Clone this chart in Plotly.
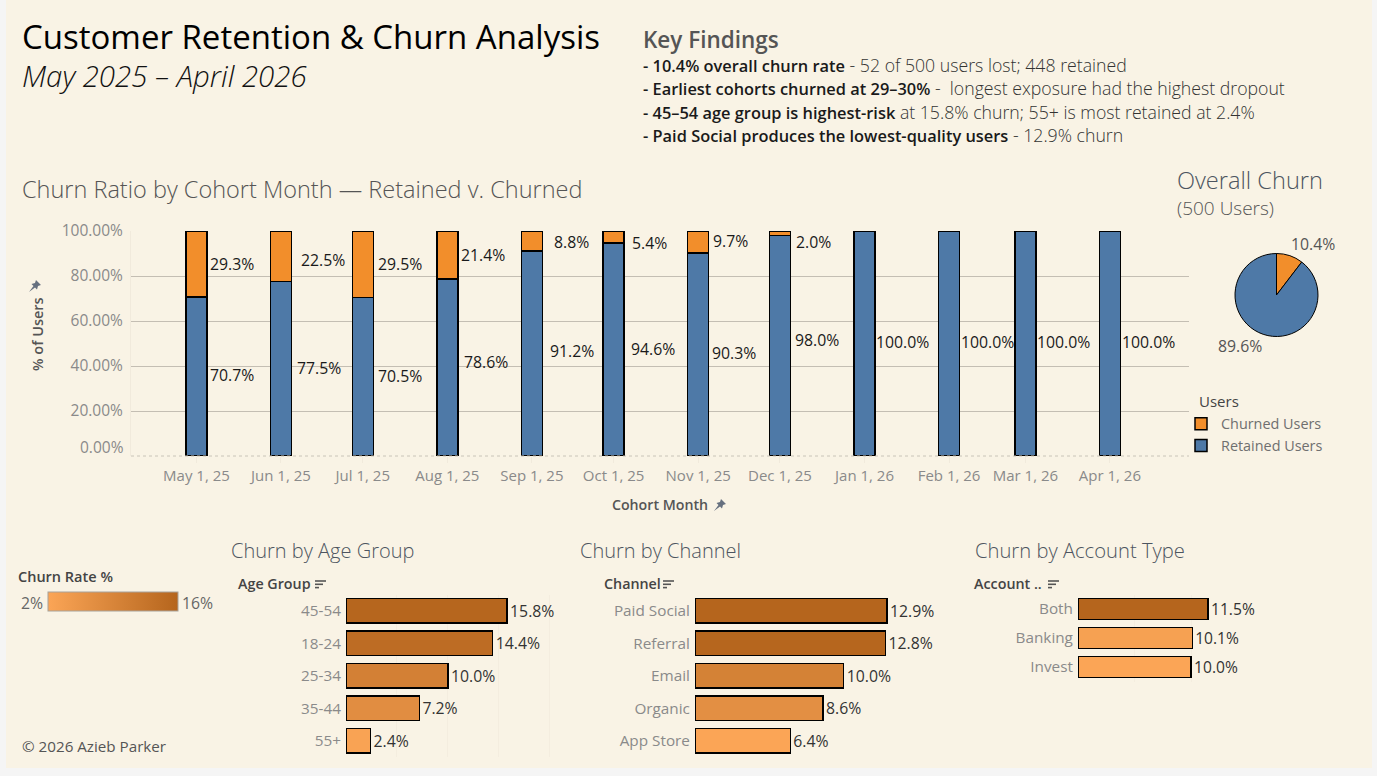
import plotly.graph_objects as go

W, H = 1377, 776

cohort_months = ['2025-05-01', '2025-06-01', '2025-07-01', '2025-08-01', '2025-09-01', '2025-10-01',
                 '2025-11-01', '2025-12-01', '2026-01-01', '2026-02-01', '2026-03-01', '2026-04-01']
retained_pct = [70.7, 77.5, 70.5, 78.6, 91.2, 94.6, 90.3, 98.0, 100.0, 100.0, 100.0, 100.0]
churned_pct = [29.3, 22.5, 29.5, 21.4, 8.8, 5.4, 9.7, 2.0, 0, 0, 0, 0]
y_ticks = [20, 40, 60, 80, 100]
y_tick_labels = ['20.00%', '40.00%', '60.00%', '80.00%', '100.00%']

overall_labels = ['Churned Users', 'Retained Users']
overall_pct = [10.4, 89.6]

age_groups = ['45-54', '18-24', '25-34', '35-44', '55+']
age_churn = [15.8, 14.4, 10.0, 7.2, 2.4]
channels = ['Paid Social', 'Referral', 'Email', 'Organic', 'App Store']
channel_churn = [12.9, 12.8, 10.0, 8.6, 6.4]
account_types = ['Both', 'Banking', 'Invest']
account_churn = [11.5, 10.1, 10.0]

findings_lead = [
    '- 10.4% overall churn rate',
    '- Earliest cohorts churned at 29–30%',
    '- 45–54 age group is highest-risk',
    '- Paid Social produces the lowest-quality users',
]
findings_rest = [
    ' - 52 of 500 users lost; 448 retained',
    ' -  longest exposure had the highest dropout',
    ' at 15.8% churn; 55+ is most retained at 2.4%',
    ' - 12.9% churn',
]

# label nudges in px, Tableau shuffles these to avoid overlaps
churn_label_dx = [12, 18, 13, 12, 20, 16, 13, 14, 0, 0, 0, 0]
churn_label_dy = [0, 4, 0, 0, 1, 6, -1, 9, 0, 0, 0, 0]
retain_label_dx = [12, 14, 13, 15, 16, 15, 12, 13, 9, 10, 10, 10]
retain_label_dy = [-1, -1, -1, -6, -2, -1, -1, -6, -2, -2, -2, -2]

FONT = 'Open Sans'
BG = '#F9F3E5'
ORANGE = '#F28E2B'
BLUE = '#4E79A7'
LIGHT = '#FBA556'
DARK = '#B5651D'
SCALE = [[0, LIGHT], [1, DARK]]


def px(x):
    return x / W


def py(y):
    return 1 - y / H


def note(x, y, text, size, color='#555555', weight=400, anchor='left', style='normal', angle=0, valign='middle'):
    return dict(xref='paper', yref='paper', x=px(x), y=py(y), text=text, showarrow=False,
                xanchor=anchor, yanchor=valign, textangle=angle, align=anchor,
                font=dict(family=FONT, size=size, color=color, weight=weight, style=style))


def pin(cx, cy):
    # small map pin, the one Tableau puts next to pinned axis fields
    pts = [(-6, 6), (-1.5, 0), (-3.5, -2), (0, -3), (1, -6), (6, -1), (3, 0), (2, 3.5), (0, 1.5), (-6, 6)]
    path = 'M' + ' L'.join(f'{px(cx + a):.5f},{py(cy + b):.5f}' for a, b in pts) + ' Z'
    return dict(type='path', xref='paper', yref='paper', path=path, fillcolor='#66707F', line=dict(width=0))


def sort_icon(x, y):
    shapes = []
    for i, length in enumerate([11, 8, 4]):
        shapes.append(dict(type='line', xref='paper', yref='paper', x0=px(x), x1=px(x + length),
                           y0=py(y + i * 3.3), y1=py(y + i * 3.3), line=dict(color='#555555', width=1.6)))
    return shapes


fig = go.Figure()

# stacked cohort bars on a real date axis, that's why the gaps aren't even
fig.add_trace(go.Bar(x=cohort_months, y=retained_pct, name='Retained Users', width=665000000,
                     marker=dict(color=BLUE, line=dict(color='black', width=1.5)), cliponaxis=False))
fig.add_trace(go.Bar(x=cohort_months, y=churned_pct, name='Churned Users', width=665000000,
                     marker=dict(color=ORANGE, line=dict(color='black', width=1.5)), cliponaxis=False))

fig.add_trace(go.Pie(labels=overall_labels, values=overall_pct, sort=False, direction='clockwise', rotation=0,
                     textinfo='none', showlegend=False, automargin=False,
                     marker=dict(colors=[ORANGE, BLUE], line=dict(color='black', width=1)),
                     domain=dict(x=[px(1235), px(1318)], y=[py(336.5), py(253.5)])))


def hbars(cats, vals, ax, cmin=None, cmax=None, colorbar=None):
    fig.add_trace(go.Bar(
        y=cats, x=vals, orientation='h', xaxis='x' + ax, yaxis='y' + ax, showlegend=False,
        marker=dict(color=vals, colorscale=SCALE, cmin=cmin if cmin else min(vals), cmax=cmax if cmax else max(vals),
                    line=dict(color='black', width=1.2), colorbar=colorbar, showscale=colorbar is not None),
        texttemplate='%{x:.1f}%', textposition='outside', cliponaxis=False,
        textfont=dict(family=FONT, size=15.8, color='#333333')))


rate_bar = dict(orientation='h', x=px(48), xanchor='left', y=py(612), yanchor='bottom', thickness=19,
                thicknessmode='pixels', len=130, lenmode='pixels', xpad=0, ypad=0, ticks='', showticklabels=False,
                outlinecolor='#A8A29A', outlinewidth=1)
hbars(age_groups, age_churn, '2', 2, 16, rate_bar)
hbars(channels, channel_churn, '3')
hbars(account_types, account_churn, '4')

annotations = [
    note(20, 36, 'Customer Retention &amp; Churn Analysis', 33, '#000000'),
    note(20, 76, 'May 2025 – April 2026', 29.4, '#111111', 300, style='italic'),
    note(641, 39, 'Key Findings', 22.5, '#555555', 600),
    note(20, 189, 'Churn Ratio by Cohort Month — Retained v. Churned', 23.5, '#555555', 300),
    note(1175, 180, 'Overall Churn', 23.6, '#4d5560', 300),
    note(1175, 208, '(500 Users)', 19, '#555555', 300),
    note(229, 550, 'Churn by Age Group', 20, '#4d5560', 300),
    note(578, 550, 'Churn by Channel', 20, '#4d5560', 300),
    note(973, 550, 'Churn by Account Type', 20.2, '#4d5560', 300),
    note(16, 576, 'Churn Rate %', 14.5, '#444444', 600),
    note(45, 603, '2%', 15.8, '#666666', anchor='right'),
    note(180, 603, '16%', 15.8, '#666666'),
    note(236, 583, 'Age Group', 14.3, '#444444', 600),
    note(602, 583, 'Channel', 14.3, '#444444', 600),
    note(972, 583, 'Account ..', 14.3, '#444444', 600),
    note(20, 746, '© 2026 Azieb Parker', 15.2, '#555555'),
    note(37, 334, '% of Users', 14.5, '#555555', 600, anchor='center', angle=-90),
    note(126, 447, '0.00%', 15.5, '#8a8a8a', anchor='right'),
    note(1313, 244, f'{overall_pct[0]}%', 15.8, '#555555', anchor='center'),
    note(1240, 346, f'{overall_pct[1]}%', 15.8, '#555555', anchor='center'),
    note(1197, 401, 'Users', 15, '#444444'),
]
for i in range(len(findings_lead)):
    line = (f'<span style="font-size:16.4px;font-weight:600;fill:#1a1a1a">{findings_lead[i]}</span>'
            f'{findings_rest[i]}')
    annotations.append(note(641, 65 + i * 23.4, line, 17.7, '#333333', 300))

# value labels sit right of each bar
for i, month in enumerate(cohort_months):
    if churned_pct[i] > 0:
        annotations.append(dict(x=month, y=retained_pct[i] + churned_pct[i] / 2, text=f'{churned_pct[i]:.1f}%',
                                xref='x', yref='y', showarrow=False, xanchor='left', xshift=churn_label_dx[i],
                                yshift=-churn_label_dy[i], font=dict(family=FONT, size=15.8, color='#1a1a1a')))
    annotations.append(dict(x=month, y=retained_pct[i] / 2, text=f'{retained_pct[i]:.1f}%',
                            xref='x', yref='y', showarrow=False, xanchor='left', xshift=retain_label_dx[i],
                            yshift=-retain_label_dy[i], font=dict(family=FONT, size=15.8, color='#1a1a1a')))

shapes = [
    dict(type='rect', xref='paper', yref='paper', x0=px(6), x1=px(1372), y0=py(768), y1=1, fillcolor=BG,
         line=dict(width=0), layer='below'),
    dict(type='line', xref='paper', yref='paper', x0=px(131), x1=px(1189), y0=py(456), y1=py(456),
         line=dict(color='#C9C4B8', width=1, dash='dot')),
    pin(35, 286),
    pin(720, 505),
]
shapes += sort_icon(315, 581) + sort_icon(663, 581) + sort_icon(1048, 581)

cat_font = dict(family=FONT, size=15.3, color='#8a8a8a')


def h_axes(x0, x1, top, bottom, vmax):
    xa = dict(domain=[px(x0), px(x1)], range=[0, vmax], anchor='free', position=py(bottom), tickvals=[0, 5, 10, 15, 20],
              showticklabels=False, showgrid=True, gridcolor='#F4EDDF', zeroline=False, ticks='')
    ya = dict(domain=[py(bottom), py(top)], autorange='reversed', type='category', tickfont=cat_font, ticks='outside',
              ticklen=2, tickcolor='rgba(0,0,0,0)', showline=False, showgrid=False, anchor='free', position=px(x0))
    return xa, ya


x2, y2 = h_axes(346, 556, 594.5, 757, 20.6)
x3, y3 = h_axes(695, 945, 594.5, 757, 16.8)
x4, y4 = h_axes(1078, 1248, 594.5, 681.5, 15.04)
x3['showgrid'] = False

fig.update_layout(
    width=W, height=H, autosize=False, margin=dict(l=0, r=0, t=0, b=0, autoexpand=False),
    paper_bgcolor='#F5F5F5', plot_bgcolor='rgba(0,0,0,0)',
    font=dict(family=FONT, size=14, color='#666666'),
    barmode='stack', bargap=0.25,
    xaxis=dict(domain=[px(131), px(1189)], type='date', range=['2025-04-07', '2026-04-30'], tickvals=cohort_months,
               tickformat='%b %-d, %y', showgrid=False, zeroline=False, ticks='outside', ticklen=6,
               tickcolor='#F1EADC', tickfont=dict(family=FONT, size=15, color='#8a8a8a'), anchor='y',
               title=dict(text='Cohort Month', standoff=16, font=dict(family=FONT, size=14.2, color='#555555', weight=600))),
    yaxis=dict(domain=[py(456), py(231)], range=[0, 100], tickvals=y_ticks, ticktext=y_tick_labels, showgrid=True,
               gridcolor='#C4BEB3', gridwidth=1, zeroline=False, showline=True, linecolor='#F1EADC', ticks='outside',
               ticklen=4, tickcolor='rgba(0,0,0,0)', tickfont=dict(family=FONT, size=15.5, color='#8a8a8a')),
    xaxis2=x2, yaxis2=y2, xaxis3=x3, yaxis3=y3, xaxis4=x4, yaxis4=y4,
    legend=dict(x=px(1181), xanchor='left', y=py(408), yanchor='top', traceorder='reversed',
                bgcolor='rgba(0,0,0,0)', font=dict(family=FONT, size=14.4, color='#6f6f6f'), itemclick=False),
    annotations=annotations, shapes=shapes, showlegend=True,
)

# drop the browser's default body margin so the page lines up with the figure
fig.write_html('out.html', config=dict(displayModeBar=False), post_script="document.body.style.margin='0';")
